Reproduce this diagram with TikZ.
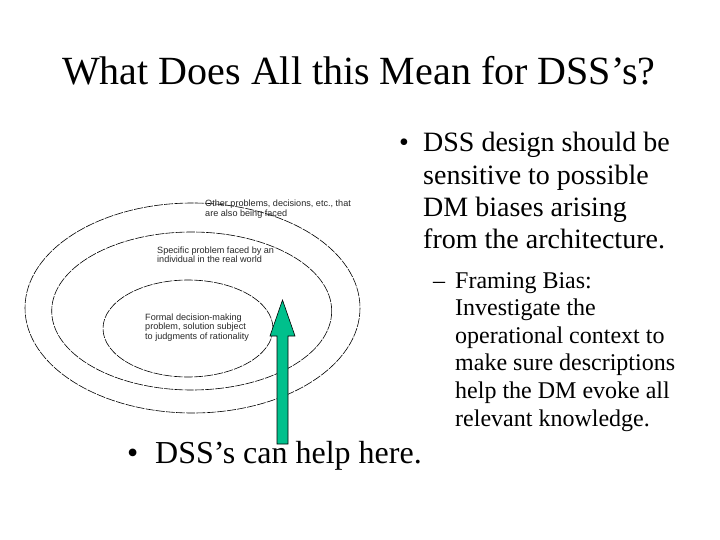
\documentclass[tikz,border=0pt]{standalone}
\usepackage{fontspec}
\setmainfont{Liberation Serif}
\newfontfamily\smallsans{Liberation Sans}
\definecolor{arrowgreen}{RGB}{0,192,140}
\begin{document}
\begin{tikzpicture}[x=1pt,y=-1pt,
  title/.style={anchor=base west,inner sep=0pt,font=\fontsize{40}{44}\selectfont},
  body/.style={anchor=base west,inner sep=0pt,align=left,font=\fontsize{28}{32.2}\selectfont},
  bottom/.style={anchor=base west,inner sep=0pt,font=\fontsize{32}{36}\selectfont},
  sub/.style={anchor=base west,inner sep=0pt,align=left,font=\fontsize{24}{27.6}\selectfont},
  lbl/.style={anchor=base west,inner sep=0pt,align=left,font=\smallsans\fontsize{9.1}{9.5}\selectfont,text=black!85},
  ring/.style={draw=black,line width=0.6pt,dash pattern=on 9pt off 1.2pt},
  bigarrow/.style={fill=arrowgreen,draw=black,line width=0.6pt}]
\useasboundingbox (0,0) rectangle (720,540);
% title
\node[title] (title) at (62,85) {What Does All this Mean for DSS’s?};
% right bullet (base anchor = baseline of last line)
\node[body] (b1dot) at (399,152) {•};
\node[body] (b1) at (423,248.6) {DSS design should be\\sensitive to possible\\DM biases arising\\from the architecture.};
\node[sub] (s1dash) at (433,288) {–};
\node[sub] (s1) at (455,426) {Framing Bias:\\Investigate the\\operational context to\\make sure descriptions\\help the DM evoke all\\relevant knowledge.};
% ellipses
\draw[ring] (192.5,308) ellipse [x radius=167.5, y radius=105];
\draw[ring] (191.7,311) ellipse [x radius=140, y radius=79];
\draw[ring] (188,328.5) ellipse [x radius=85, y radius=48.5];
\node[lbl] (l1) at (205,216.5) {Other problems, decisions, etc., that\\are also being faced};
\node[lbl] (l2) at (157,262.5) {Specific problem faced by an\\individual in the real world};
\node[lbl] (l3) at (145,339) {Formal decision-making\\problem, solution subject\\to judgments of rationality};
% arrow
\draw[bigarrow] (277,444) -- (277,336) -- (270,336) -- (282.5,300) -- (295,336) -- (288,336) -- (288,444) -- cycle;
% bottom bullet
\node[bottom] (b2dot) at (127,463) {•};
\node[bottom] (b2) at (155,463) {DSS’s can help here.};
\end{tikzpicture}
\end{document}
